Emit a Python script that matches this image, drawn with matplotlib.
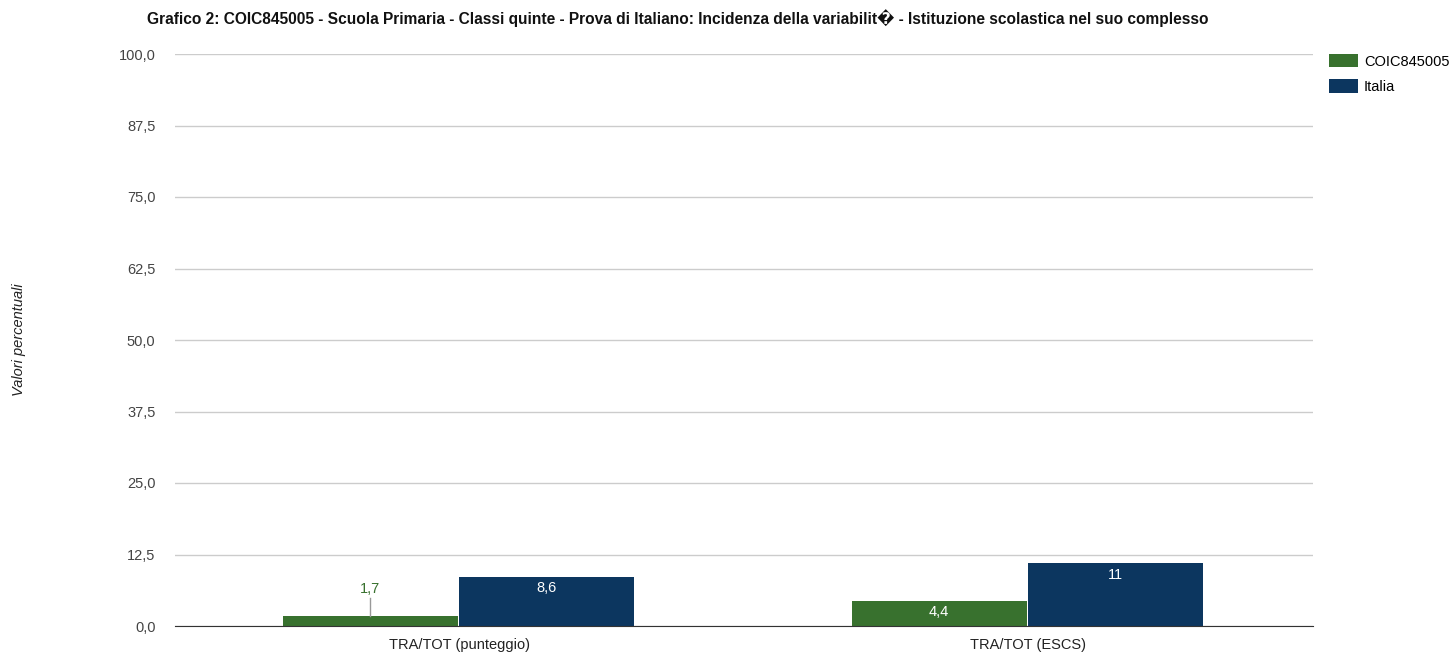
import matplotlib
matplotlib.use("Agg")
import matplotlib.pyplot as plt
import numpy as np

categories = ["TRA/TOT (punteggio)", "TRA/TOT (ESCS)"]
series_names = ["COIC845005", "Italia"]
school_values = [1.7, 4.4]
italy_values = [8.6, 11.0]
school_labels = ["1,7", "4,4"]
italy_labels = ["8,6", "11"]
yticks = [0, 12.5, 25, 37.5, 50, 62.5, 75, 87.5, 100]
ytick_labels = ["0,0", "12,5", "25,0", "37,5", "50,0", "62,5", "75,0", "87,5", "100,0"]

green = "#38712e"
blue = "#0c365f"
fam = ["Liberation Sans", "DejaVu Sans"]

fig = plt.figure(figsize=(14.56, 6.53), dpi=100)
ax = fig.add_axes([175/1456, 27/653, (1313-175)/1456, (626-54)/653])

x = np.arange(len(categories))
w = 0.307
off_g = -0.157
off_b = 0.153
b1 = ax.bar(x + off_g, school_values, width=w, color=green, label=series_names[0], zorder=3)
b2 = ax.bar(x + off_b, italy_values, width=w, color=blue, label=series_names[1], zorder=3)

ax.set_xlim(-0.5, 1.5)
ax.set_ylim(0, 100)
ax.set_yticks(yticks)
ax.set_yticklabels(ytick_labels, family=fam, fontsize=10.5, color="#444444")
ax.set_xticks(x)
ax.set_xticklabels(categories, family=fam, fontsize=10.5, color="#222222")
ax.tick_params(length=0)
ax.tick_params(axis="x", pad=9)
ax.tick_params(axis="y", pad=14)
ax.grid(axis="y", color="#cccccc", linewidth=1, zorder=0)
for s in ["top", "right", "left"]:
    ax.spines[s].set_visible(False)
ax.spines["bottom"].set_color("#333333")
ax.spines["bottom"].set_zorder(4)

# value labels
for i, (v, lab) in enumerate(zip(school_values, school_labels)):
    xc = x[i] + off_g
    if v < 3:
        ax.plot([xc, xc], [v, v + 3.2], color="#999999", linewidth=1, zorder=4)
        ax.text(xc, v + 3.6, lab, ha="center", va="bottom", color=green,
                family=fam, fontsize=10.5, zorder=5)
    else:
        ax.text(xc, v - 0.8, lab, ha="center", va="top", color="white",
                family=fam, fontsize=10.5, zorder=5)
for i, (v, lab) in enumerate(zip(italy_values, italy_labels)):
    xc = x[i] + off_b
    ax.text(xc, v - 0.8, lab, ha="center", va="top", color="white",
            family=fam, fontsize=10.5, zorder=5)

ax.set_ylabel("Valori percentuali", family=fam, fontsize=10.5, style="italic",
              color="#222222")
ax.yaxis.set_label_coords(-0.131, 0.5)

fig.text(147/1456, 1 - 18/653, "Grafico 2: COIC845005 - Scuola Primaria - Classi quinte - Prova di Italiano: Incidenza della variabilit\ufffd - Istituzione scolastica nel suo complesso",
         ha="left", va="center", family=fam, fontsize=11.2, fontweight="bold", color="#111111")

leg = fig.legend(handles=[b1, b2], labels=series_names, loc="upper left",
                 bbox_to_anchor=(1329/1456, 1 - 54/653), frameon=False,
                 prop={"family": fam, "size": 10.5}, handlelength=2.0, handleheight=1.0,
                 handletextpad=0.4, labelspacing=0.75, borderpad=0, borderaxespad=0)

fig.savefig("out.png", dpi=100, facecolor="white")
